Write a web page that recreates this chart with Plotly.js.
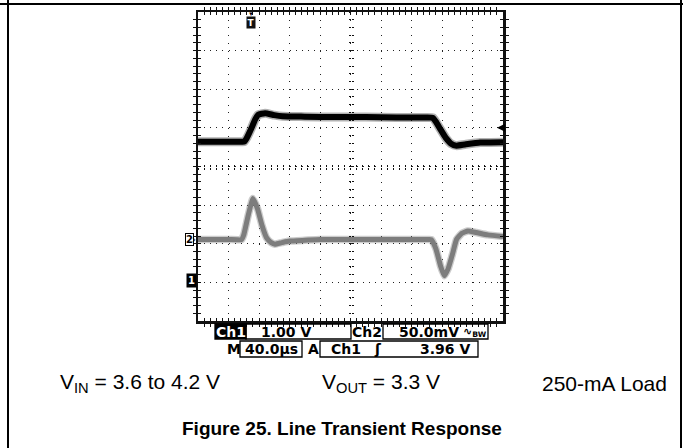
<!DOCTYPE html>
<html><head><meta charset="utf-8">
<script src="https://cdn.plot.ly/plotly-3.0.1.min.js"></script>
<style>html,body{margin:0;padding:0;background:#fff;} #chart{width:683px;height:448px;}</style>
</head><body><div id="chart"></div>
<script>
// ---- Data ----
// Ch1: input voltage (V), time in microseconds
const ch1Time  = [0, 30, 58, 61, 64, 70, 75, 79, 88, 100, 111, 140, 180, 220, 260, 300, 308, 312, 318, 325, 332, 339, 350, 370, 400];
const ch1Volts = [3.6, 3.6, 3.6, 3.61, 3.7, 3.95, 4.18, 4.3, 4.34, 4.29, 4.26, 4.25, 4.24, 4.24, 4.23, 4.23, 4.22, 4.12, 3.92, 3.7, 3.55, 3.5, 3.53, 3.58, 3.59];
// Ch2: output voltage, AC coupled (mV)
const ch2Time = [0, 40, 57, 60, 66, 72, 78, 84, 90, 96, 101, 110, 120, 140, 160, 200, 250, 300, 306, 312, 318, 323, 328, 334, 339, 346, 354, 365, 380, 400];
const ch2mV   = [0, 0, 0, 6, 32, 53, 40, 18, 2, -4, -6, -4, -2, -1, 0, 0, 0, 0, 0, -12, -34, -47, -38, -18, 0, 8, 11, 9, 6, 4];
// scope settings / labels
const ch1Scale = "1.00 V";
const ch2Scale = "50.0mV";
const timeScale = "40.0µs";
const trigLevel = 3.96;
const trigLabel = "3.96 V";
const trigTime = 69.5;
const conditions = ["V<sub>IN</sub> = 3.6 to 4.2 V", "V<sub>OUT</sub> = 3.3 V", "250-mA Load"];
const figTitle = "Figure 25. Line Transient Response";

// ---- layout helpers (pixel -> paper) ----
const W = 683, H = 448;
const px = x => x / W, py = y => 1 - y / H;
const X0 = px(198), X1 = px(503), Y0 = py(321), Y1 = py(12);
const XC = (X0 + X1) / 2, YC = (Y0 + Y1) / 2;
const ch1Range = [-1.04, 6.96];
const ch2Range = [-105.5, 294.5];
const tRange = [0, 400];
const frameCol = '#111';

const traces = [
  {x: ch1Time, y: ch1Volts, xaxis: 'x', yaxis: 'y', mode: 'lines', line: {color: 'rgba(0,0,0,0.3)', width: 9, shape: 'spline', smoothing: 0.4}, hoverinfo: 'skip'},
  {x: ch1Time, y: ch1Volts, xaxis: 'x', yaxis: 'y', mode: 'lines', line: {color: '#000', width: 6, shape: 'spline', smoothing: 0.4}, hoverinfo: 'skip'},
  {x: ch2Time, y: ch2mV, xaxis: 'x', yaxis: 'y2', mode: 'lines', line: {color: 'rgba(128,128,128,0.4)', width: 7.5, shape: 'spline', smoothing: 0.4}, hoverinfo: 'skip'},
  {x: ch2Time, y: ch2mV, xaxis: 'x', yaxis: 'y2', mode: 'lines', line: {color: '#7d7d7d', width: 5, shape: 'spline', smoothing: 0.4}, hoverinfo: 'skip'},
  // empty traces to make the helper axes exist
  {x: [], y: [], xaxis: 'x2', yaxis: 'y', hoverinfo: 'skip'},
  {x: [], y: [], xaxis: 'x', yaxis: 'y3', hoverinfo: 'skip'},
  {x: [], y: [], xaxis: 'x', yaxis: 'y4', hoverinfo: 'skip'},
  {x: [], y: [], xaxis: 'x', yaxis: 'y5', hoverinfo: 'skip'},
  {x: [], y: [], xaxis: 'x3', yaxis: 'y', hoverinfo: 'skip'},
  {x: [], y: [], xaxis: 'x4', yaxis: 'y', hoverinfo: 'skip'}
];

const base = {showticklabels: false, zeroline: false, fixedrange: true, showgrid: false};
const scopeFont = {family: 'DejaVu Sans', size: 14, color: '#000', weight: 'bold'};
const textFont = {family: 'Liberation Sans', size: 21, color: '#000'};

function ann(x, y, text, opts) {
  return Object.assign({xref: 'paper', yref: 'paper', x: px(x), y: py(y), text: text, showarrow: false,
    xanchor: 'center', yanchor: 'middle', font: scopeFont}, opts || {});
}
function rect(x0, y0, x1, y1, fill) {
  return {type: 'rect', xref: 'paper', yref: 'paper', x0: px(x0), x1: px(x1), y0: py(y0), y1: py(y1),
    line: {color: '#000', width: 1.3}, fillcolor: fill || 'rgba(0,0,0,0)'};
}
function pline(x0, y0, x1, y1) {
  return {type: 'line', xref: 'paper', yref: 'paper', x0: px(x0), x1: px(x1), y0: py(y0), y1: py(y1), line: {color: '#000', width: 2}};
}

const layout = {
  width: W, height: H, margin: {l: 0, r: 0, t: 0, b: 0},
  paper_bgcolor: '#fff', plot_bgcolor: '#fff', showlegend: false,
  xaxis: Object.assign({}, base, {domain: [X0, X1], range: tRange, showline: true, linewidth: 2.5, linecolor: frameCol,
    mirror: 'allticks', ticks: 'inside', tick0: 0, dtick: 8, ticklen: 3, tickwidth: 1, tickcolor: frameCol}),
  xaxis2: Object.assign({}, base, {overlaying: 'x', anchor: 'y', range: tRange, showgrid: true, tick0: 0, dtick: 40,
    gridcolor: '#222', gridwidth: 1, griddash: '1px,6.72px'}),
  xaxis3: Object.assign({}, base, {overlaying: 'x', anchor: 'free', position: YC, range: tRange, ticks: 'outside', tick0: 0, dtick: 8, ticklen: 2, tickwidth: 1, tickcolor: frameCol}),
  xaxis4: Object.assign({}, base, {overlaying: 'x', anchor: 'free', position: YC, range: tRange, ticks: 'inside', tick0: 0, dtick: 8, ticklen: 2, tickwidth: 1, tickcolor: frameCol}),
  yaxis: Object.assign({}, base, {domain: [Y0, Y1], range: ch1Range, showline: true, linewidth: 2.5, linecolor: frameCol,
    mirror: 'allticks', ticks: 'inside', tick0: ch1Range[0], dtick: 0.2, ticklen: 3, tickwidth: 1, tickcolor: frameCol}),
  yaxis2: Object.assign({}, base, {overlaying: 'y', range: ch2Range, visible: false}),
  yaxis3: Object.assign({}, base, {overlaying: 'y', range: ch1Range, showgrid: true, tick0: ch1Range[0], dtick: 1,
    gridcolor: '#222', gridwidth: 1, griddash: '1px,5.1px'}),
  yaxis4: Object.assign({}, base, {overlaying: 'y', anchor: 'free', position: XC, range: ch1Range, ticks: 'outside', tick0: ch1Range[0], dtick: 0.2, ticklen: 2, tickwidth: 1, tickcolor: frameCol}),
  yaxis5: Object.assign({}, base, {overlaying: 'y', anchor: 'free', position: XC, range: ch1Range, ticks: 'inside', tick0: ch1Range[0], dtick: 0.2, ticklen: 2, tickwidth: 1, tickcolor: frameCol}),
  shapes: [
    pline(0, 4, W, 4), pline(8, 0, 8, H), pline(681, 0, 681, H),
    rect(215, 324, 246, 339, '#000'),
    rect(246, 324, 351, 339),
    rect(383, 324, 488, 339),
    rect(240, 341, 302, 357),
    rect(320, 341, 478, 357)
  ],
  annotations: [
    // channel / trigger markers
    {xref: 'x', yref: 'paper', x: trigTime, y: py(13.5), text: '▼', showarrow: false, font: {size: 6, color: '#000'}, xanchor: 'center', yanchor: 'middle'},
    {xref: 'x', yref: 'paper', x: trigTime, y: py(22), text: 'T', showarrow: false, font: {family: 'DejaVu Sans', size: 9, color: '#fff', weight: 'bold'}, bgcolor: '#111', borderpad: 0.5, xanchor: 'center', yanchor: 'middle'},
    {xref: 'paper', yref: 'y', x: px(497), y: trigLevel, ax: 7, ay: 0, text: '', showarrow: true, arrowhead: 2, arrowsize: 1, arrowwidth: 1.6, arrowcolor: '#000'},
    {xref: 'paper', yref: 'y2', x: px(194), y: 0, text: '2', showarrow: false, font: {family: 'DejaVu Sans', size: 10, color: '#000', weight: 'bold'}, bgcolor: '#fff', bordercolor: '#000', borderwidth: 1, borderpad: 0, xanchor: 'right', yanchor: 'middle'},
    {xref: 'paper', yref: 'y2', x: px(197.5), y: 0, text: '›', showarrow: false, font: {family: 'DejaVu Sans', size: 10, color: '#000'}, xanchor: 'right', yanchor: 'middle'},
    {xref: 'paper', yref: 'y', x: px(197), y: 0, text: '1', showarrow: false, font: {family: 'DejaVu Sans', size: 10, color: '#fff', weight: 'bold'}, bgcolor: '#000', borderpad: 1, xanchor: 'right', yanchor: 'middle'},
    // readout rows
    ann(230.5, 331.5, 'Ch1', {font: Object.assign({}, scopeFont, {color: '#fff'})}),
    ann(286, 331.5, ch1Scale),
    ann(367, 331.5, 'Ch2'),
    ann(429, 331.5, ch2Scale),
    ann(475, 331.5, '∿<sub>BW</sub>', {font: Object.assign({}, scopeFont, {size: 11})}),
    ann(234, 349, 'M'),
    ann(271, 349, timeScale),
    ann(313, 349, 'A'),
    ann(346, 349, 'Ch1'),
    ann(378, 349, 'ʃ'),
    ann(445, 349, trigLabel),
    // conditions and caption
    ann(58, 383, conditions[0], {xanchor: 'left', font: textFont}),
    ann(442, 383, conditions[1], {xanchor: 'right', font: textFont}),
    ann(669, 383, conditions[2], {xanchor: 'right', font: textFont}),
    ann(342, 428, '<b>' + figTitle + '</b>', {font: Object.assign({}, textFont, {size: 19})})
  ]
};

Plotly.newPlot('chart', traces, layout, {staticPlot: true, displayModeBar: false});
</script>
</body></html>
